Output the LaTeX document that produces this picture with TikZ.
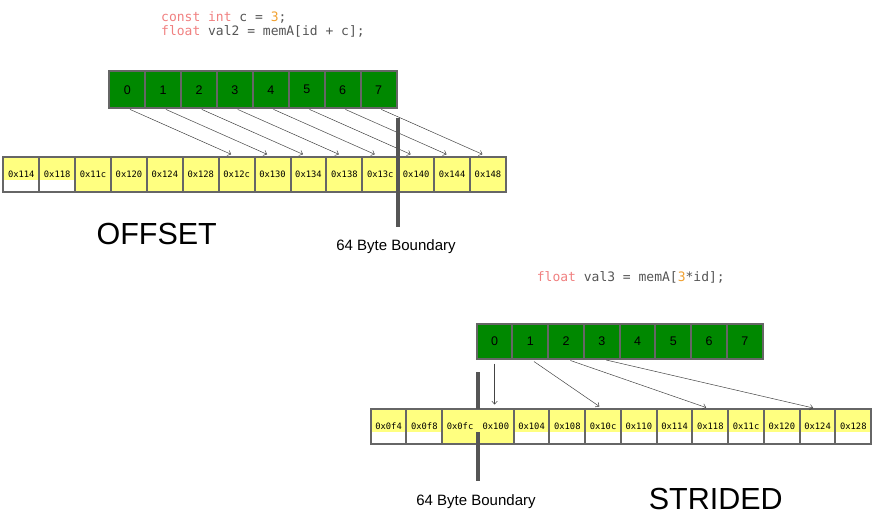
\documentclass[tikz,border=0pt]{standalone}
\usepackage{fontspec}
\setmainfont{Liberation Sans}
\newfontfamily\codefont{DejaVu Sans Mono}
\usetikzlibrary{arrows.meta}
\definecolor{cellgreen}{HTML}{008800}
\definecolor{cellyellow}{HTML}{FFFF80}
\definecolor{cellborder}{HTML}{666666}
\definecolor{kw}{HTML}{F08080}
\definecolor{num}{HTML}{F0A030}
\definecolor{codegray}{HTML}{555555}
\definecolor{barcol}{HTML}{555555}
\definecolor{arrowgray}{HTML}{444444}
\tikzset{
  gcell/.style={draw=cellborder, line width=2pt, fill=cellgreen, minimum width=35.9pt,
    minimum height=37pt, inner sep=0pt, outer sep=0pt, text=black, font=\fontsize{12.5}{14}\selectfont},
  acell/.style={draw=cellborder, line width=2pt, fill=cellyellow, minimum width=35.9pt,
    minimum height=35.5pt, inner sep=0pt, outer sep=0pt, text=black, font=\codefont\fontsize{8.8}{10}\selectfont},
  mcell/.style={acell, draw=none},
  codeline/.style={anchor=west, inner sep=0pt, text=codegray, font=\codefont\fontsize{13}{15}\selectfont},
  bigtitle/.style={inner sep=0pt, font=\fontsize{30.5}{34}\selectfont},
  boundlabel/.style={inner sep=0pt, font=\fontsize{15}{17}\selectfont},
  conn/.style={draw=arrowgray, line width=0.5pt, -{Straight Barb[length=3pt,width=5.5pt]}},
  boundbar/.style={draw=barcol, line width=4pt},
  emptypart/.style={fill=white},
}
\begin{document}
\begin{tikzpicture}[x=1pt,y=-1pt]
\useasboundingbox (0,0) rectangle (875,517);

% ---------- OFFSET ----------
\node[codeline] (code1) at (161,17) {\textcolor{kw}{const int} c = \textcolor{num}{3};};
\node[codeline] (code2) at (161,31.5) {\textcolor{kw}{float} val2 = memA[id + c];};

\foreach \i in {0,...,7}
  \node[gcell] (g\i) at ({109.3+35.9*(\i+0.5)},89.7) {\i};

\foreach \lab [count=\i from 0] in {0x114,0x118,0x11c,0x120,0x124,0x128,0x12c,0x130,
    0x134,0x138,0x13c,0x140,0x144,0x148}
  \node[acell] (o\i) at ({3.3+35.9*(\i+0.5)},174.5) {\lab};
\foreach \i in {0,1}
  \fill[emptypart] ([xshift=1pt,yshift=1pt]o\i.south west) rectangle ([xshift=-1pt,yshift=12.5pt]o\i.south east);

\foreach \i [evaluate=\i as \j using int(\i+6)] in {0,...,7}
  \draw[conn, shorten <=3pt, shorten >=6pt] (g\i.south) -- (o\j.north);

\coordinate (b1t) at (398.2,118);
\coordinate (b1b) at (398.2,227);
\draw[boundbar] (b1t) -- (b1b);
\node[boundlabel] (bl1) at (396,246.7) {64 Byte Boundary};
\node[bigtitle] (offset) at (156.7,234) {OFFSET};

% ---------- STRIDED ----------
\node[codeline] (code3) at (536.7,277) {\textcolor{kw}{float} val3 = memA[\textcolor{num}{3}*id];};

\foreach \i in {0,...,7}
  \node[gcell, minimum width=35.75pt, minimum height=35pt] (h\i) at ({476.7+35.75*(\i+0.5)},341.5) {\i};

\foreach \lab/\sty [count=\i from 0] in {0x0f4/acell,0x0f8/acell,0x0fc/mcell,0x100/mcell,
    0x104/acell,0x108/acell,0x10c/acell,0x110/acell,0x114/acell,0x118/acell,
    0x11c/acell,0x120/acell,0x124/acell,0x128/acell}
  \node[style=\sty, minimum width=35.75pt, minimum height=35pt] (s\i) at ({370.7+35.75*(\i+0.5)},426.5) {\lab};
\draw[cellborder, line width=2pt] (s2.north west) rectangle (s3.south east);
\foreach \i in {0,1,4,5,6,7,8,9,10,11,12,13}
  \fill[emptypart] ([xshift=1pt,yshift=1pt]s\i.south west) rectangle ([xshift=-1pt,yshift=12pt]s\i.south east);

\draw[conn, shorten <=4.5pt, shorten >=4.5pt] (h0.south) -- (h0.south |- s3.north);
\foreach \i/\j in {1/6,2/9,3/12}
  \draw[conn, shorten <=4.5pt, shorten >=4.5pt] (h\i.south) -- (s\j.north);

\coordinate (b2t) at (478,372);
\coordinate (b2m) at (478,409);
\coordinate (b2n) at (478,432);
\coordinate (b2b) at (478,481);
\draw[boundbar] (b2t) -- (b2m);
\draw[boundbar] (b2n) -- (b2b);
\node[boundlabel] (bl2) at (476,501.7) {64 Byte Boundary};
\node[bigtitle] (strided) at (715.8,498.5) {STRIDED};
\end{tikzpicture}
\end{document}
